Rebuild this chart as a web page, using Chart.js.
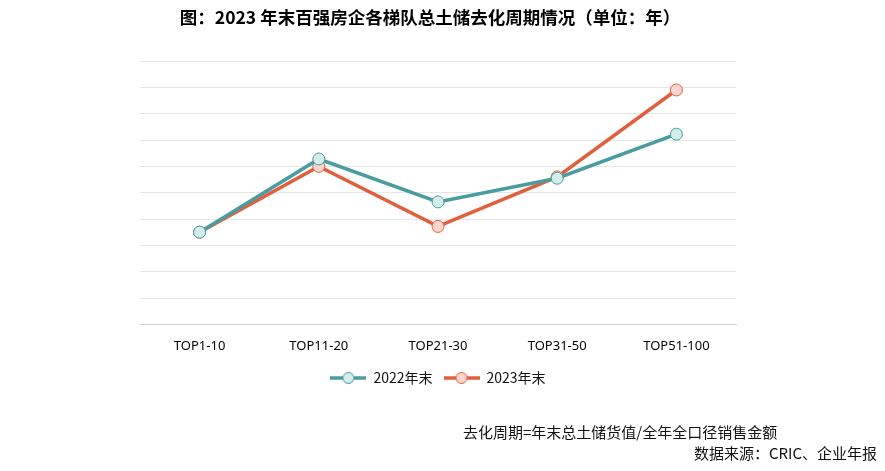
<!DOCTYPE html>
<html>
<head>
<meta charset="utf-8">
<script src="https://cdn.jsdelivr.net/npm/chart.js@4"></script>
<style>
  body { margin: 0; background: #fff; }
  #wrap { position: relative; width: 885px; height: 471px; }
  #wrap canvas { position: absolute; left: 0; top: 0; }
  .title { position: absolute; left: 0; width: 860px; top: 4px; text-align: center; font-family: "Noto Sans CJK SC", sans-serif; font-size: 17.5px; font-weight: bold; color: #000; white-space: nowrap; }
  .note { position: absolute; font-family: "Noto Sans CJK SC", "Noto Sans", sans-serif; font-size: 15px; color: #111; white-space: nowrap; }
</style>
</head>
<body>
<div id="wrap">
  <canvas id="cycleChart" width="885" height="471"></canvas>
  <div class="title">图：2023 年末百强房企各梯队总土储去化周期情况（单位：年）</div>
  <div class="note" style="left:463px; top:421px;">去化周期=年末总土储货值/全年全口径销售金额</div>
  <div class="note" style="right:8px; top:442px;">数据来源：CRIC、企业年报</div>
</div>
<script>
const categories = ['TOP1-10', 'TOP11-20', 'TOP21-30', 'TOP31-50', 'TOP51-100'];
const values2022 = [3.5, 6.28, 4.65, 5.55, 7.22];
const values2023 = [3.5, 6.0, 3.72, 5.6, 8.9];
const seriesNames = ['2022年末', '2023年末'];

const tealLine = '#4a9ca0';
const tealFill = '#d3ecec';
const redLine = '#e0603e';
const redFill = '#fbd6cd';

// little line + circle icon for the legend
function legendIcon(line, fill) {
    const c = document.createElement('canvas');
    c.width = 36;
    c.height = 14;
    const g = c.getContext('2d');
    g.strokeStyle = line;
    g.lineWidth = 3.5;
    g.beginPath();
    g.moveTo(0, 7);
    g.lineTo(36, 7);
    g.stroke();
    g.beginPath();
    g.arc(18, 7, 5.5, 0, Math.PI * 2);
    g.fillStyle = fill;
    g.fill();
    g.lineWidth = 1;
    g.stroke();
    return c;
}

const ctx = document.getElementById('cycleChart');

new Chart(ctx, {
    type: 'line',
    data: {
        labels: categories,
        datasets: [{
            label: seriesNames[0],
            data: values2022,
            borderColor: tealLine,
            backgroundColor: tealFill,
            borderWidth: 3.5,
            pointRadius: 6,
            pointBorderWidth: 1,
            pointBackgroundColor: tealFill,
            pointBorderColor: tealLine,
            tension: 0
        }, {
            label: seriesNames[1],
            data: values2023,
            borderColor: redLine,
            backgroundColor: redFill,
            borderWidth: 3.5,
            pointRadius: 6,
            pointBorderWidth: 1,
            pointBackgroundColor: redFill,
            pointBorderColor: redLine,
            tension: 0
        }]
    },
    options: {
        responsive: false,
        animation: false,
        layout: { padding: { left: 140, right: 149, top: 61, bottom: 76 } },
        plugins: {
            title: { display: false },
            legend: {
                position: 'bottom',
                labels: {
                    usePointStyle: true,
                    pointStyleWidth: 36,
                    color: '#111',
                    padding: 11,
                    font: { family: '"Noto Sans CJK SC", sans-serif', size: 14 },
                    generateLabels: function (chart) {
                        return chart.data.datasets.map(function (ds, i) {
                            return {
                                text: ds.label,
                                datasetIndex: i,
                                pointStyle: legendIcon(ds.borderColor, ds.pointBackgroundColor),
                                fontColor: '#111',
                                lineWidth: 0,
                                strokeStyle: 'transparent',
                                fillStyle: 'transparent'
                            };
                        });
                    }
                }
            },
            tooltip: { enabled: false }
        },
        scales: {
            x: {
                offset: true,
                grid: { display: false },
                border: { color: '#d0d0d0' },
                ticks: {
                    color: '#000',
                    padding: 6,
                    font: { family: '"Noto Sans", sans-serif', size: 13 }
                }
            },
            y: {
                min: 0,
                max: 10,
                grid: { color: '#e6e6e6', drawTicks: false },
                border: { display: false },
                ticks: { display: false, stepSize: 1 }
            }
        }
    }
});
</script>
</body>
</html>
